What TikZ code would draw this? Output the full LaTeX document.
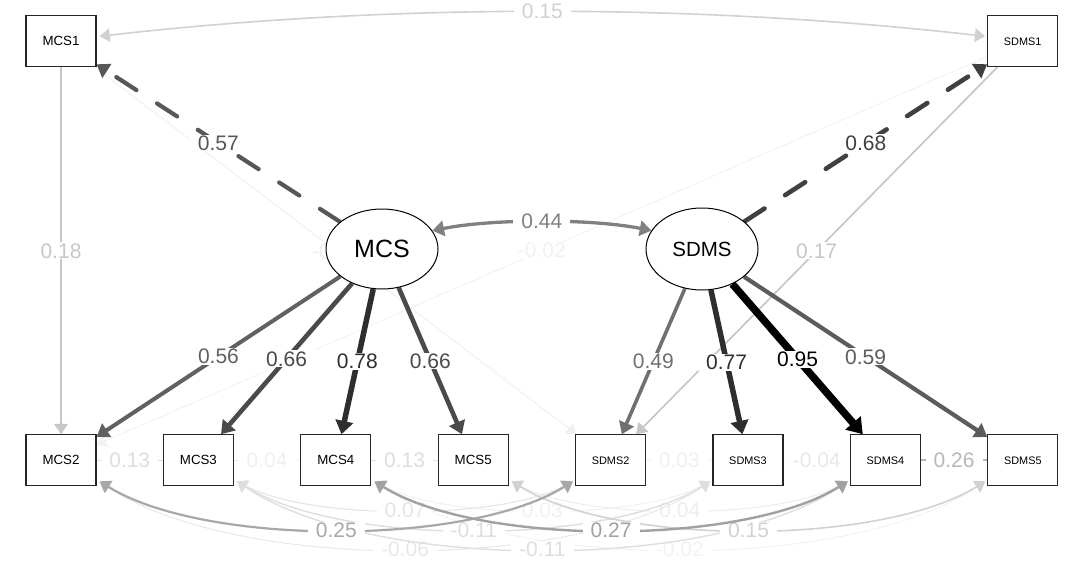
\documentclass[tikz,border=0pt]{standalone}
\usepackage{fontspec}
\setmainfont{Liberation Sans}
\usetikzlibrary{arrows.meta,shapes.geometric,backgrounds,calc}
\tikzset{
 obsbox/.style={draw=black!85, line width=1.1pt, fill=white, minimum width=70pt, minimum height=51pt, inner sep=0pt},
 latnode/.style={ellipse, draw=black, line width=1pt, fill=white, minimum width=112pt, minimum height=80pt, inner sep=0pt},
 lbl/.style={fill=white, inner xsep=8pt, inner ysep=1pt, font=\fontsize{21}{21}\selectfont},
 edg/.style 2 args={draw=black!#1, color=black!#1, line width=#2pt},
 tipA/.tip={Triangle[length=9pt 0.8, width=12pt 1.0]},
 arr/.style={-tipA},
 darr/.style={tipA-tipA},
 dsh/.style={dash pattern=on 24pt off 24.5pt, line cap=round},
}
\begin{document}
\begin{tikzpicture}[x=1pt,y=-1pt]
\useasboundingbox (0,0) rectangle (1084,567);
% observed variables
\node[obsbox,font=\fontsize{13.3}{14}\selectfont] (mcs1) at (61,41.3) {MCS1};
\node[obsbox,font=\fontsize{10.9}{12}\selectfont] (sdms1) at (1022.7,41.3) {SDMS1};
\node[obsbox,font=\fontsize{13.3}{14}\selectfont] (mcs2) at (61,460.3) {MCS2};
\node[obsbox,font=\fontsize{13.3}{14}\selectfont] (mcs3) at (198.4,460.3) {MCS3};
\node[obsbox,font=\fontsize{13.3}{14}\selectfont] (mcs4) at (335.8,460.3) {MCS4};
\node[obsbox,font=\fontsize{13.3}{14}\selectfont] (mcs5) at (473.2,460.3) {MCS5};
\node[obsbox,font=\fontsize{10.9}{12}\selectfont] (sdms2) at (610.6,460.3) {SDMS2};
\node[obsbox,font=\fontsize{10.9}{12}\selectfont] (sdms3) at (748,460.3) {SDMS3};
\node[obsbox,font=\fontsize{10.9}{12}\selectfont] (sdms4) at (885.4,460.3) {SDMS4};
\node[obsbox,font=\fontsize{10.9}{12}\selectfont] (sdms5) at (1022.8,460.3) {SDMS5};
% latent variables
\node[latnode,font=\fontsize{25}{25}\selectfont] (mcs) at (382,249) {MCS};
\node[latnode,font=\fontsize{20.5}{21}\selectfont,minimum height=82pt] (sdms) at (702,249) {SDMS};
% curve end points
\coordinate (m1r) at ($(mcs1.east)+(3,-5)$);
\coordinate (s1l) at ($(sdms1.west)+(-2,-5)$);
\coordinate (m2b) at ($(mcs2.south east)+(3,-5)$);
\coordinate (m3b) at ($(mcs3.south east)+(3,-5)$);
\coordinate (m4b) at ($(mcs4.south east)+(3,-5)$);
\coordinate (m5b) at ($(mcs5.south east)+(3,-5)$);
\coordinate (s2b) at ($(sdms2.south west)+(-2,-5)$);
\coordinate (s3b) at ($(sdms3.south west)+(-2,-5)$);
\coordinate (s4b) at ($(sdms4.south west)+(-2,-5)$);
\coordinate (s5b) at ($(sdms5.south west)+(-2,-5)$);
\begin{pgfonlayer}{background}
% faint cross edges
\draw[arr, edg={5}{1}] (sdms1) -- (mcs2) node[lbl,midway]{-0.02};
\draw[arr, edg={6}{1}] (mcs1) -- (sdms2) node[lbl,midway]{-0.01};
% row edges
\draw[edg={6}{1}] (mcs3) -- (mcs4) node[lbl,midway]{0.04};
\draw[edg={6}{1}] (sdms2) -- (sdms3) node[lbl,midway]{0.03};
\draw[edg={9}{1}] (sdms3) -- (sdms4) node[lbl,midway]{-0.04};
\draw[edg={13}{1.5}] (mcs2) -- (mcs3) node[lbl,midway]{0.13};
\draw[edg={13}{1.5}] (mcs4) -- (mcs5) node[lbl,midway]{0.13};
\draw[edg={28}{2.2}] (sdms4) -- (sdms5) node[lbl,midway]{0.26};
% bottom covariances
\draw[darr, edg={5}{1}] (m4b) .. controls +(135,91) and +(-135,91) .. (s5b) node[lbl,midway]{-0.02};
\draw[darr, edg={6}{1}] (m4b) .. controls +(74,39) and +(-74,39) .. (s3b) node[lbl,midway]{0.03};
\draw[darr, edg={7}{1}] (m5b) .. controls +(74,39) and +(-74,39) .. (s4b) node[lbl,midway]{0.04};
\draw[darr, edg={9}{1}] (m2b) .. controls +(135,91) and +(-135,91) .. (s3b) node[lbl,midway]{-0.06};
\draw[darr, edg={10}{1.1}] (m3b) .. controls +(74,39) and +(-74,39) .. (s2b) node[lbl,midway]{0.07};
\draw[darr, edg={13}{1.4}] (m3b) .. controls +(135,91) and +(-135,91) .. (s4b) node[lbl,midway]{-0.11};
\draw[darr, edg={13}{1.4}] (m3b) .. controls +(105,65) and +(-105,65) .. (s3b) node[lbl,midway]{-0.11};
\draw[darr, edg={18}{1.6}] (m5b) .. controls +(105,65) and +(-105,65) .. (s5b) node[lbl,midway]{0.15};
\draw[darr, edg={34}{2.2}] (m2b) .. controls +(105,65) and +(-105,65) .. (s2b) node[lbl,midway]{0.25};
\draw[darr, edg={37}{2.4}] (m4b) .. controls +(105,65) and +(-105,65) .. (s4b) node[lbl,midway]{0.27};
% top covariance
\draw[darr, edg={18}{1.6}] (m1r) .. controls +(290,-33) and +(-290,-33) .. (s1l) node[lbl,midway]{0.15};
% regressions between indicators
\draw[arr, edg={22}{1.7}] (sdms1) -- (sdms2) node[lbl,midway]{0.17};
\draw[arr, edg={22}{1.8}] (mcs1) -- (mcs2) node[lbl,midway]{0.18};
% latent covariance
\draw[darr, edg={50}{3.3}] (mcs.20) .. controls +(60,-12) and +(-60,-12) .. (sdms.160) node[lbl,midway]{0.44};
% loadings
\draw[arr, edg={56}{3.6}] (sdms) -- (sdms2) node[lbl,midway]{0.49};
\draw[arr, edg={62}{4}] (mcs) -- (mcs2) node[lbl,midway]{0.56};
\draw[arr, edg={64}{4.2}] (sdms) -- (sdms5) node[lbl,midway]{0.59};
\draw[arr, edg={66}{4.2}, dsh] (mcs) -- (mcs1) node[lbl,midway]{0.57};
\draw[arr, edg={71}{4.6}] (mcs) -- (mcs3) node[lbl,midway]{0.66};
\draw[arr, edg={71}{4.6}] (mcs) -- (mcs5) node[lbl,midway]{0.66};
\draw[arr, edg={75}{4.6}, dsh] (sdms) -- (sdms1) node[lbl,midway]{0.68};
\draw[arr, edg={82}{5.5}] (sdms) -- (sdms3) node[lbl,midway]{0.77};
\draw[arr, edg={82}{5.5}] (mcs) -- (mcs4) node[lbl,midway]{0.78};
\draw[arr, edg={100}{7.5}] (sdms) -- (sdms4) node[lbl,midway]{0.95};
\end{pgfonlayer}
\end{tikzpicture}
\end{document}
